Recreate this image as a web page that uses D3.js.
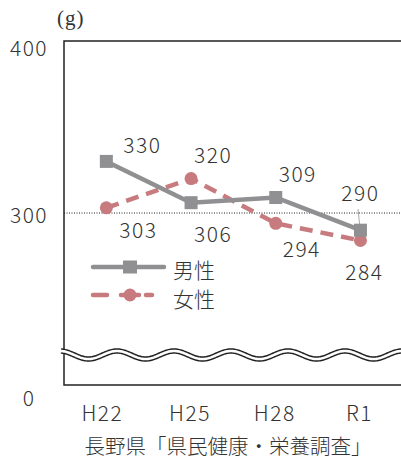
<!DOCTYPE html>
<html>
<head>
<meta charset="utf-8">
<script src="https://cdn.jsdelivr.net/npm/d3@7"></script>
<style>
  body { margin: 0; background: #fff; }
  text { font-family: "Noto Sans CJK JP", "Noto Sans", sans-serif; fill: #333; }
  .num { font-size: 21px; font-weight: 300; letter-spacing: 1.5px; }
</style>
</head>
<body>
<div id="chart"></div>
<script>
// data (g / day)
const years = ['H22', 'H25', 'H28', 'R1']
const male = [330, 306, 309, 290]
const female = [303, 320, 294, 284]
const yTicks = [200, 300, 400]
const tickNames = {200: '0', 300: '300', 400: '400'}
const source = '長野県「県民健康・栄養調査」'

const W = 401, H = 459
const margin = {top: 41, left: 64, bottom: 385}
const grey = '#909092', pink = '#c77b7e'

const svg = d3.select('#chart').append('svg')
  .attr('width', W).attr('height', H)

const x = d3.scaleBand().domain(years).range([margin.left, margin.left + 4 * 84.7])
const xc = d => x(d) + x.bandwidth() / 2
// axis is broken below the wave: 200 is drawn as "0"
const y = d3.scaleLinear().domain([200, 400]).range([margin.bottom, margin.top])

// frame
svg.append('path')
  .attr('d', `M${W + 5},${y(400)}H${margin.left}V${y(200)}H${W + 5}`)
  .attr('fill', 'none').attr('stroke', '#222').attr('stroke-width', 1.5)

// dotted 300 line
svg.append('line')
  .attr('x1', margin.left).attr('x2', W)
  .attr('y1', y(300)).attr('y2', y(300))
  .attr('stroke', '#222').attr('stroke-width', 1).attr('stroke-dasharray', '1,1.5')

// y tick labels
const tickDy = {200: 12, 300: 1, 400: 6}
svg.selectAll('.ytick').data(yTicks).enter().append('text')
  .attr('class', 'ytick num')
  .attr('x', 29).attr('y', d => y(d) + tickDy[d])
  .attr('text-anchor', 'middle').attr('dominant-baseline', 'central')
  .text(d => tickNames[d])

svg.append('text')
  .attr('x', 57).attr('y', 25)
  .style('font-family', '"Liberation Serif", serif').style('font-size', '21px')
  .style('letter-spacing', '1px')
  .text('(g)')

// x labels
svg.selectAll('.xtick').data(years).enter().append('text')
  .attr('class', 'xtick num')
  .attr('x', d => xc(d) - (d === 'H22' ? 4 : 1)).attr('y', 412)
  .attr('text-anchor', 'middle').attr('dominant-baseline', 'central')
  .text(d => d)

svg.append('text')
  .attr('x', 228).attr('y', 445)
  .attr('text-anchor', 'middle').attr('dominant-baseline', 'central')
  .style('font-size', '20.5px').style('font-weight', 300)
  .text(source)

// break wave
const wave = d3.range(61, W + 10, 1).map(px => [px, 355 - 4 * Math.cos(2 * Math.PI * (px - 60) / 57)])
const waveLine = d3.line()
svg.append('path').attr('d', waveLine(wave))
  .attr('fill', 'none').attr('stroke', '#222').attr('stroke-width', 5.5)
svg.append('path').attr('d', waveLine(wave))
  .attr('fill', 'none').attr('stroke', '#fff').attr('stroke-width', 2.6)

// leader for 290
svg.append('line')
  .attr('x1', 358).attr('y1', 209).attr('x2', 360).attr('y2', y(male[3]) - 2)
  .attr('stroke', '#aaa').attr('stroke-width', 1)

const line = d3.line().x((d, i) => xc(years[i])).y(d => y(d))

// female
svg.append('path').attr('d', line(female))
  .attr('fill', 'none').attr('stroke', pink).attr('stroke-width', 4.5)
  .attr('stroke-dasharray', '13,8')
svg.selectAll('.fdot').data(female).enter().append('circle')
  .attr('cx', (d, i) => xc(years[i])).attr('cy', d => y(d)).attr('r', 6.5)
  .attr('fill', pink)

// male
svg.append('path').attr('d', line(male))
  .attr('fill', 'none').attr('stroke', grey).attr('stroke-width', 4.5)
svg.selectAll('.mdot').data(male).enter().append('rect')
  .attr('x', (d, i) => xc(years[i]) - 6.5).attr('y', d => y(d) - 6.5)
  .attr('width', 13).attr('height', 13).attr('fill', grey)

// value labels
const maleOff = [[36, -17], [22, 30], [22, -25], [0, -38]]
const femaleOff = [[32, 21], [22, -25], [26, 25], [4, 30]]
const addLabels = (vals, off) => svg.append('g').selectAll('text').data(vals).enter().append('text')
  .attr('class', 'num')
  .attr('x', (d, i) => xc(years[i]) + off[i][0]).attr('y', (d, i) => y(d) + off[i][1])
  .attr('text-anchor', 'middle').attr('dominant-baseline', 'central')
  .text(d => d)
addLabels(male, maleOff)
addLabels(female, femaleOff)

// legend
const lg = svg.append('g')
lg.append('line').attr('x1', 93).attr('x2', 164).attr('y1', 267).attr('y2', 267)
  .attr('stroke', grey).attr('stroke-width', 4.5).attr('stroke-linecap', 'round')
lg.append('rect').attr('x', 123).attr('y', 260.5).attr('width', 14).attr('height', 13).attr('fill', grey)
lg.append('text').attr('x', 173).attr('y', 269).attr('dominant-baseline', 'central')
  .style('font-size', '21px').style('font-weight', 300).text('男性')
lg.append('path').attr('d', 'M93,295H107M121,295H139M146,295H152')
  .attr('stroke', pink).attr('stroke-width', 4.5).attr('stroke-linecap', 'round')
lg.append('circle').attr('cx', 130).attr('cy', 295).attr('r', 6.5).attr('fill', pink)
lg.append('text').attr('x', 173).attr('y', 298).attr('dominant-baseline', 'central')
  .style('font-size', '21px').style('font-weight', 300).text('女性')
</script>
</body>
</html>
